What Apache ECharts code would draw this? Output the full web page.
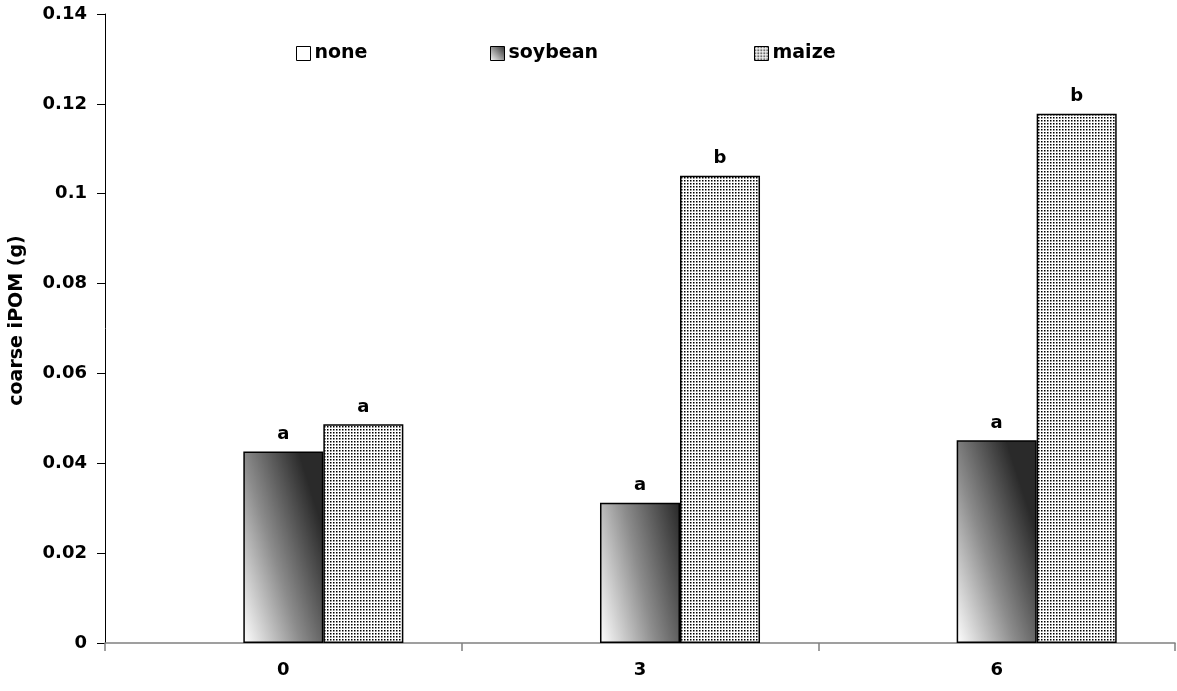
<!DOCTYPE html>
<html>
<head>
<meta charset="utf-8">
<script src="https://cdn.jsdelivr.net/npm/echarts@6/dist/echarts.min.js"></script>
<style>html,body{margin:0;padding:0;background:#fff}#c{width:1177px;height:691px}</style>
</head>
<body>
<div id="c"></div>
<script>
const categories = ['0', '3', '6'];
const seriesNames = ['none', 'soybean', 'maize'];
const noneValues = [0, 0, 0];
const soybeanValues = [0.0426, 0.0312, 0.0451];
const maizeValues = [0.0487, 0.1040, 0.1178];
const soybeanLetters = ['a', 'a', 'a'];
const maizeLetters = ['a', 'b', 'b'];
const yTicks = [0, 0.02, 0.04, 0.06, 0.08, 0.1, 0.12, 0.14];

const FONT = '"DejaVu Sans", Verdana, sans-serif';

// dotted pattern
const tile = document.createElement('canvas');
tile.width = 3; tile.height = 3;
const tctx = tile.getContext('2d');
tctx.fillStyle = '#fff';
tctx.fillRect(0, 0, 3, 3);
tctx.fillStyle = '#000';
tctx.fillRect(0, 0, 1.5, 1.5);

const dotFill = { image: tile, repeat: 'repeat' };
const gradFill = {
  type: 'linear', x: 0, y: 1, x2: 1.31, y2: 0.83,
  colorStops: [
    { offset: 0, color: '#ffffff' },
    { offset: 0.5, color: '#8c8c8c' },
    { offset: 1, color: '#2a2a2a' }
  ]
};
const legendGrad = {
  type: 'linear', x: 0, y: 1, x2: 1, y2: 0,
  colorStops: [
    { offset: 0, color: '#ffffff' },
    { offset: 1, color: '#2a2a2a' }
  ]
};

const labelStyle = {
  show: true, position: 'top', distance: 8,
  fontFamily: FONT, fontWeight: 'bold', fontSize: 18, color: '#000'
};

function mkLegend(name, left, icon) {
  return {
    data: [{ name: name, itemStyle: icon }],
    left: left, top: 44, itemWidth: 14, itemHeight: 14, itemGap: 0,
    icon: 'rect', padding: 0,
    textStyle: { fontFamily: FONT, fontWeight: 'bold', fontSize: 19, color: '#000', padding: [0, 0, 0, -1] }
  };
}

const chart = echarts.init(document.getElementById('c'), null, { renderer: 'canvas' });
chart.setOption({
  animation: false,
  backgroundColor: '#fff',
  grid: { left: 105, right: 2, top: 14, bottom: 48, containLabel: false },
  legend: [
    mkLegend(seriesNames[0], 296, { color: '#fff', borderColor: '#000', borderWidth: 1 }),
    mkLegend(seriesNames[1], 490, { color: legendGrad, borderColor: '#000', borderWidth: 1 }),
    mkLegend(seriesNames[2], 754, { color: dotFill, borderColor: '#000', borderWidth: 1 })
  ],
  xAxis: {
    type: 'category', data: categories,
    axisLine: { lineStyle: { color: '#808080', width: 1.5 } },
    axisTick: { show: true, length: 8, lineStyle: { color: '#808080', width: 1.5 } },
    axisLabel: { fontFamily: FONT, fontWeight: 'bold', fontSize: 18, color: '#000', margin: 18 }
  },
  yAxis: {
    type: 'value', min: 0, max: 0.14, interval: 0.02,
    name: 'coarse iPOM (g)', nameLocation: 'middle', nameGap: 78,
    nameTextStyle: { fontFamily: FONT, fontWeight: 'bold', fontSize: 19, color: '#000', padding: [0, 0, 0, 16] },
    splitLine: { show: false },
    axisLine: { show: true, lineStyle: { color: '#000', width: 1 } },
    axisTick: { show: true, length: 8, lineStyle: { color: '#000' } },
    axisLabel: {
      fontFamily: FONT, fontWeight: 'bold', fontSize: 18, color: '#000', margin: 18,
      formatter: v => { const t = yTicks.find(x => Math.abs(x - v) < 1e-9); return String(+((t !== undefined ? t : v).toFixed(2))); }
    }
  },
  series: [
    { name: seriesNames[0], type: 'bar', data: noneValues, barGap: '0%', barCategoryGap: '32.7%',
      itemStyle: { color: '#fff', borderWidth: 0 } },
    { name: seriesNames[1], type: 'bar', data: soybeanValues, barGap: '0%', barCategoryGap: '32.7%',
      itemStyle: { color: gradFill, borderColor: '#000', borderWidth: 1.5 },
      label: Object.assign({}, labelStyle, { formatter: p => soybeanLetters[p.dataIndex] }) },
    { name: seriesNames[2], type: 'bar', data: maizeValues, barGap: '0%', barCategoryGap: '32.7%',
      itemStyle: { color: dotFill, borderColor: '#000', borderWidth: 1.5 },
      label: Object.assign({}, labelStyle, { formatter: p => maizeLetters[p.dataIndex] }) }
  ]
});
</script>
</body>
</html>
